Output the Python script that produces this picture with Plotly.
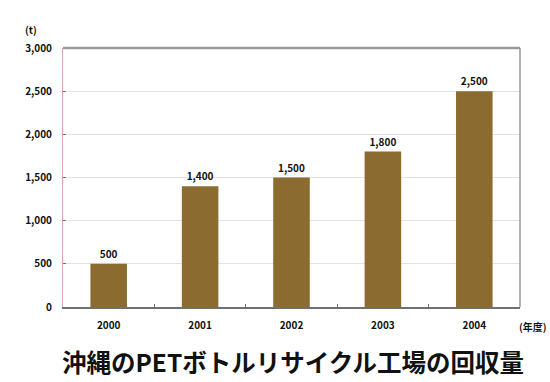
import plotly.graph_objects as go

# Collected PET bottles per fiscal year (tonnes)
years = ["2000", "2001", "2002", "2003", "2004"]
tonnes = [500, 1400, 1500, 1800, 2500]
y_ticks = [0, 500, 1000, 1500, 2000, 2500, 3000]
y_tick_text = ["0", "500", "1,000", "1,500", "2,000", "2,500", "3,000"]
bar_labels = [f"{v:,}" for v in tonnes]

BAR = "#8C6B30"
FONT = "Noto Sans CJK JP"

fig = go.Figure(
    go.Bar(
        x=years,
        y=tonnes,
        marker=dict(color=BAR, line=dict(width=0)),
        text=bar_labels,
        textposition="outside",
        textfont=dict(family=FONT, size=10, color="#111111", weight="bold"),
        cliponaxis=False,
    )
)

fig.update_layout(
    width=550,
    height=382,
    margin=dict(l=63, r=30, t=48, b=75),
    paper_bgcolor="white",
    plot_bgcolor="white",
    bargap=0.6,
    showlegend=False,
    font=dict(family=FONT, color="#111111"),
    xaxis=dict(
        type="category",
        showline=True,
        linecolor="#707070",
        linewidth=1.5,
        ticks="inside",
        tickson="boundaries",
        ticklen=3,
        tickcolor="#707070",
        showgrid=False,
        tickfont=dict(size=10, weight="bold"),
        ticklabelstandoff=8,
    ),
    yaxis=dict(
        range=[0, 3000],
        tickvals=y_ticks,
        ticktext=y_tick_text,
        showgrid=True,
        gridcolor="#e2e2e2",
        gridwidth=1,
        zeroline=False,
        showline=True,
        linecolor="#d9a8b0",
        linewidth=1,
        ticks="inside",
        ticklen=3,
        tickcolor="#707070",
        tickfont=dict(size=10, weight="bold"),
        ticklabelstandoff=8,
    ),
    shapes=[
        # top border of the plot frame
        dict(type="line", xref="paper", yref="paper", x0=0, x1=1, y0=1, y1=1,
             line=dict(color="#9a9a9a", width=2.5)),
        # right border of the plot frame
        dict(type="line", xref="paper", yref="paper", x0=1, x1=1, y0=0, y1=1,
             line=dict(color="#9a9a9a", width=1.5)),
    ],
    annotations=[
        dict(text="(t)", xref="paper", yref="paper", x=-0.07, y=1.07,
             showarrow=False, font=dict(size=10, weight="bold"),
             xanchor="center", yanchor="middle"),
        dict(text="(年度)", xref="paper", yref="paper", x=1.063, y=-0.075,
             showarrow=False, font=dict(size=10, weight="bold"),
             xanchor="right", yanchor="middle"),
        dict(text="沖縄のPETボトルリサイクル工場の回収量", xref="paper", yref="paper",
             x=0.503, y=-0.212, showarrow=False,
             font=dict(size=24.5, weight="bold", color="#111111"),
             xanchor="center", yanchor="middle"),
    ],
)

fig.write_html("out.html")
